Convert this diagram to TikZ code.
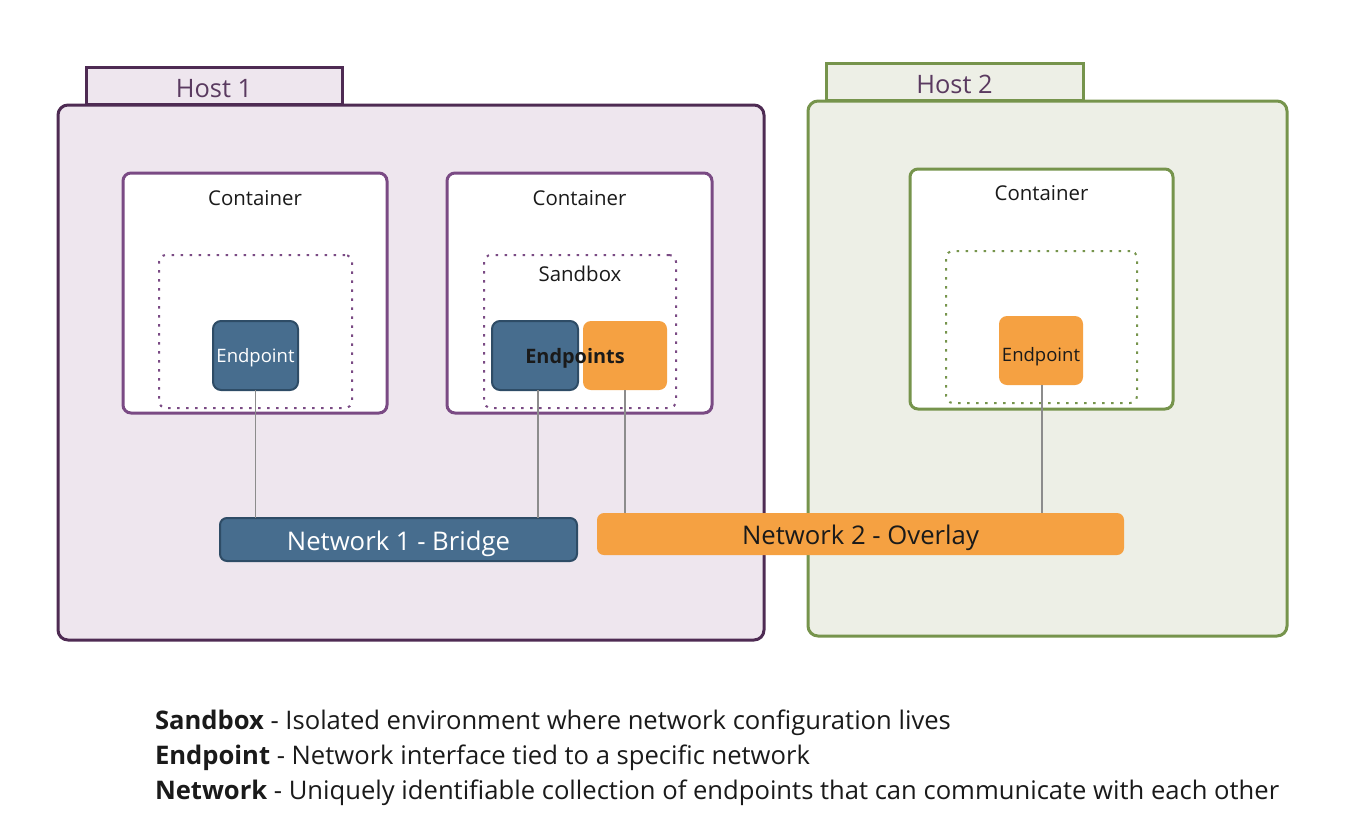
\documentclass[tikz,border=0pt]{standalone}
\usepackage{fontspec}
\setmainfont{Open Sans}
\definecolor{hpurple}{HTML}{4E2B53}
\definecolor{hpfill}{HTML}{EEE6EE}
\definecolor{cpurple}{HTML}{7A4A84}
\definecolor{hgreen}{HTML}{76944C}
\definecolor{hgfill}{HTML}{EDEFE6}
\definecolor{epblue}{HTML}{476D8E}
\definecolor{epblueb}{HTML}{2E4C66}
\definecolor{eporange}{HTML}{F5A142}
\definecolor{linkgray}{HTML}{8C8C8C}
\definecolor{hosttext}{HTML}{5A3A60}
\definecolor{txt}{HTML}{1A1A1A}
\begin{document}
\begin{tikzpicture}[x=1pt,y=-1pt,
  every node/.style={inner sep=0pt, outer sep=0pt},
  corner/.style={anchor=north west},
  tab1/.style={corner, draw=hpurple, fill=hpfill, line width=3pt},
  body1/.style={corner, draw=hpurple, fill=hpfill, line width=3pt, rounded corners=10pt},
  tab2/.style={corner, draw=hgreen, fill=hgfill, line width=3pt},
  body2/.style={corner, draw=hgreen, fill=hgfill, line width=3pt, rounded corners=10pt},
  cont1/.style={corner, draw=cpurple, fill=white, line width=3pt, rounded corners=8pt},
  cont2/.style={corner, draw=hgreen, fill=white, line width=3pt, rounded corners=8pt},
  sand1/.style={corner, draw=cpurple, line width=2pt, dash pattern=on 2.5pt off 6.5pt, rounded corners=7pt},
  sand2/.style={corner, draw=hgreen, line width=2pt, dash pattern=on 2.5pt off 6.5pt, rounded corners=7pt},
  epb/.style={corner, draw=epblueb, fill=epblue, line width=2pt, rounded corners=8pt},
  epo/.style={corner, fill=eporange, rounded corners=8pt},
  hostlbl/.style={text=hosttext, font=\fontsize{25.4}{30}\selectfont},
  clbl/.style={text=txt, font=\fontsize{20.4}{24}\selectfont},
  eplbl/.style={font=\fontsize{18.5}{22}\selectfont},
  netlbl/.style={font=\fontsize{25.7}{30}\selectfont},
  link/.style={draw=linkgray, line width=1.5pt},
  legend/.style={anchor=west, text=txt, font=\fontsize{25.6}{30}\selectfont}
]
\useasboundingbox (0,0) rectangle (1348,828);
% Host 1
\node[tab1, minimum width=256pt, minimum height=37pt] (t1) at (86,67) {};
\node[body1, minimum width=706pt, minimum height=535pt] (h1) at (58,105) {};
\node[hostlbl] at ([yshift=-3pt]t1.center) {Host 1};
% Host 2
\node[tab2, minimum width=257pt, minimum height=37pt] (t2) at (826,63) {};
\node[body2, minimum width=479pt, minimum height=535pt] (h2) at (808,101) {};
\node[hostlbl] at ([yshift=-3pt]t2.center) {Host 2};
% Containers
\node[cont1, minimum width=264pt, minimum height=240pt] (c1) at (123,173) {};
\node[clbl] at ([yshift=-25pt]c1.north) {Container};
\node[cont1, minimum width=265pt, minimum height=240pt] (c2) at (447,173) {};
\node[clbl] at ([yshift=-25pt]c2.north) {Container};
\node[cont2, minimum width=263pt, minimum height=240pt] (c3) at (910,169) {};
\node[clbl] at ([yshift=-24pt]c3.north) {Container};
% Sandboxes
\node[sand1, minimum width=193pt, minimum height=153pt] (s1) at (159,255) {};
\node[sand1, minimum width=192pt, minimum height=153pt] (s2) at (484,255) {};
\node[clbl] at ([yshift=-19pt]s2.north) {Sandbox};
\node[sand2, minimum width=191pt, minimum height=152pt] (s3) at (946,251) {};
% Endpoints
\node[epb, minimum width=85pt, minimum height=69pt] (e1) at (213,321) {};
\node[eplbl, text=white] at ([yshift=-2pt]e1.center) {Endpoint};
\node[epb, minimum width=86pt, minimum height=69pt] (e2b) at (492,321) {};
\node[epo, minimum width=84pt, minimum height=69pt] (e2o) at (583,321) {};
\node[text=txt, font=\fontsize{19.9}{24}\bfseries\selectfont] at (575,358) {Endpoints};
\node[epo, minimum width=84pt, minimum height=69pt] (e3) at (999,316) {};
\node[eplbl, text=txt] at ([yshift=-6pt]e3.center) {Endpoint};
% Networks
\node[corner, draw=epblueb, fill=epblue, line width=2pt, rounded corners=7pt, minimum width=357pt, minimum height=43pt] (n1) at (220,518) {};
\node[netlbl, text=white] at ([yshift=-4pt]n1.center) {Network 1 - Bridge};
\node[corner, fill=eporange, rounded corners=7pt, minimum width=527pt, minimum height=42pt] (n2) at (597,513) {};
\node[netlbl, text=txt] at ([yshift=-4pt]n2.center) {Network 2 - Overlay};
% Links
\draw[link] (e1.south) -- (e1.south |- n1.north);
\draw[link] ([xshift=3pt]e2b.south) -- ([xshift=3pt]e2b.south |- n1.north);
\draw[link] (e2o.south) -- (e2o.south |- n2.north);
\draw[link] ([xshift=1pt]e3.south) -- ([xshift=1pt]e3.south |- n2.north);
% Legend
\node[legend] (l1) at (155,723) {\textbf{Sandbox} - Isolated environment where network configuration lives};
\node[legend] (l2) at (155,758) {\textbf{Endpoint} - Network interface tied to a specific network};
\node[legend] (l3) at (155,793) {\textbf{Network} - Uniquely identifiable collection of endpoints that can communicate with each other};
\end{tikzpicture}
\end{document}
